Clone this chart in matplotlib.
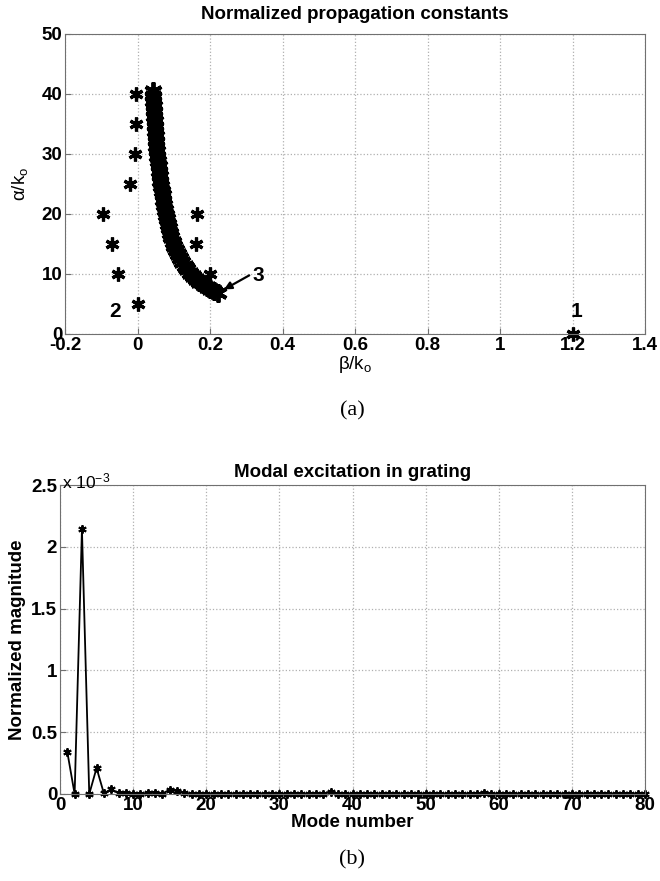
import numpy as np
import matplotlib
matplotlib.use('Agg')
import matplotlib.pyplot as plt

plt.rcParams['font.family'] = ['Liberation Sans', 'DejaVu Sans']
plt.rcParams['mathtext.fontset'] = 'custom'
plt.rcParams['mathtext.rm'] = 'Liberation Sans'
plt.rcParams['mathtext.it'] = 'Liberation Sans'
plt.rcParams['mathtext.bf'] = 'Liberation Sans:bold'
plt.rcParams['mathtext.default'] = 'regular'

# --- (a) normalized propagation constants ---
# mode 1 (guided)
beta1 = [1.2]
alpha1 = [0.0]
# branch 2 (left)
beta2 = [-0.005, -0.005, -0.008, -0.02, -0.095, -0.07, -0.055, 0.0]
alpha2 = [40, 35, 30, 25, 20, 15, 10, 5]
# scattered points right of the band
beta_r = [0.163, 0.161, 0.2]
alpha_r = [20, 15, 10]
# dense band 3
beta3 = [0.042, 0.044, 0.043, 0.045, 0.046, 0.045, 0.047, 0.048, 0.049, 0.050,
         0.051, 0.052, 0.054, 0.055, 0.056, 0.058, 0.060, 0.061, 0.063, 0.065,
         0.067, 0.069, 0.071, 0.073, 0.075, 0.078, 0.080, 0.083, 0.086, 0.089,
         0.093, 0.097, 0.101, 0.106, 0.111, 0.117, 0.123, 0.130, 0.137, 0.145,
         0.153, 0.162, 0.171, 0.181, 0.191, 0.201, 0.211, 0.221]
alpha3 = [40.5, 39.6, 38.8, 38.0, 37.1, 36.3, 35.5, 34.6, 33.8, 33.0,
          32.1, 31.3, 30.5, 29.6, 28.8, 28.0, 27.1, 26.3, 25.5, 24.7,
          23.9, 23.1, 22.3, 21.5, 20.7, 19.9, 19.1, 18.4, 17.6, 16.9,
          16.1, 15.4, 14.7, 14.0, 13.3, 12.6, 12.0, 11.4, 10.8, 10.2,
          9.7, 9.2, 8.7, 8.3, 7.9, 7.5, 7.2, 6.9]

# --- (b) modal excitation (x 1e-3) ---
modes = list(range(1, 81))
mag = [0.34, 0.0, 2.14, 0.0, 0.21, 0.005, 0.04, 0.005, 0.008, 0.004,
       0.003, 0.005, 0.01, 0.004, 0.035, 0.025, 0.005, 0.004, 0.003, 0.003,
       0.003, 0.002, 0.002, 0.003, 0.002, 0.002, 0.002, 0.003, 0.002, 0.002,
       0.002, 0.002, 0.002, 0.002, 0.003, 0.004, 0.02, 0.004, 0.002, 0.002,
       0.002, 0.002, 0.002, 0.002, 0.002, 0.002, 0.002, 0.002, 0.002, 0.002,
       0.002, 0.002, 0.002, 0.002, 0.002, 0.003, 0.004, 0.01, 0.003, 0.002,
       0.002, 0.002, 0.002, 0.002, 0.002, 0.002, 0.002, 0.002, 0.002, 0.002,
       0.002, 0.002, 0.002, 0.002, 0.002, 0.002, 0.002, 0.002, 0.002, 0.002]

W, H = 660, 881
fig = plt.figure(figsize=(W / 100, H / 100), dpi=100)

fs = 13.5
star = (6, 2, 0)
spine_c = '#707070'


def style(ax):
    ax.grid(True, ls=':', color='#b0b0b0', lw=0.9)
    ax.set_axisbelow(True)
    for s in ax.spines.values():
        s.set_color(spine_c)
    ax.tick_params(direction='in', color=spine_c, labelsize=fs, length=4, pad=2)
    for lab in ax.get_xticklabels() + ax.get_yticklabels():
        lab.set_fontweight('bold')


ax1 = fig.add_axes([65 / W, 1 - 334 / H, 580 / W, 300 / H])
ax1.plot(beta3, alpha3, ls='none', marker=star, ms=13, mew=2.8, color='k')
ax1.plot(beta2, alpha2, ls='none', marker=star, ms=10, mew=2.3, color='k')
ax1.plot(beta_r, alpha_r, ls='none', marker=star, ms=10, mew=2.3, color='k')
ax1.plot(beta1, alpha1, ls='none', marker=star, ms=10, mew=2.3, color='k', clip_on=False)
ax1.set_xlim(-0.2, 1.4)
ax1.set_ylim(0, 50)
ax1.set_xticks(np.arange(-0.2, 1.41, 0.2))
ax1.set_xticklabels(['-0.2', '0', '0.2', '0.4', '0.6', '0.8', '1', '1.2', '1.4'])
ax1.set_yticks(range(0, 51, 10))
style(ax1)
ax1.set_title('Normalized propagation constants', fontsize=fs, fontweight='bold', pad=11)
ax1.set_xlabel(r'$\beta$/k$_o$', fontsize=fs, labelpad=0)
ax1.set_ylabel(r'$\alpha$/k$_o$', fontsize=fs, labelpad=8)
ax1.text(1.21, 3.7, '1', fontsize=15, fontweight='bold', ha='center', va='center')
ax1.text(-0.062, 3.7, '2', fontsize=15, fontweight='bold', ha='center', va='center')
ax1.text(0.334, 9.8, '3', fontsize=15, fontweight='bold', ha='center', va='center')
ax1.annotate('', xy=(0.232, 7.2), xytext=(0.315, 10.0),
             arrowprops=dict(arrowstyle='-|>', lw=1.6, color='k', mutation_scale=11))

ax2 = fig.add_axes([60 / W, 1 - 794 / H, 585 / W, 309 / H])
ax2.plot(modes, mag, '-', color='k', lw=1.3, marker=star, ms=6, mew=1.4, clip_on=False)
ax2.set_xlim(0, 80)
ax2.set_ylim(0, 2.5)
ax2.set_xticks(range(0, 81, 10))
ax2.set_yticks([0, 0.5, 1, 1.5, 2, 2.5])
ax2.set_yticklabels(['0', '0.5', '1', '1.5', '2', '2.5'])
style(ax2)
ax2.set_title('Modal excitation in grating', fontsize=fs, fontweight='bold', pad=6)
ax2.set_xlabel('Mode number', fontsize=fs, fontweight='bold', labelpad=0)
ax2.set_ylabel('Normalized magnitude', fontsize=fs, fontweight='bold', labelpad=4)
ax2.text(0.004, 0.99, r'x 10$^{-3}$', transform=ax2.transAxes, fontsize=12.5,
         va='baseline', ha='left')

fig.text(352 / W, 1 - 411 / H, '(a)', fontsize=16, family='Liberation Serif', ha='center', va='center')
fig.text(352 / W, 1 - 860 / H, '(b)', fontsize=16, family='Liberation Serif', ha='center', va='center')

fig.savefig('out.png', dpi=100)
